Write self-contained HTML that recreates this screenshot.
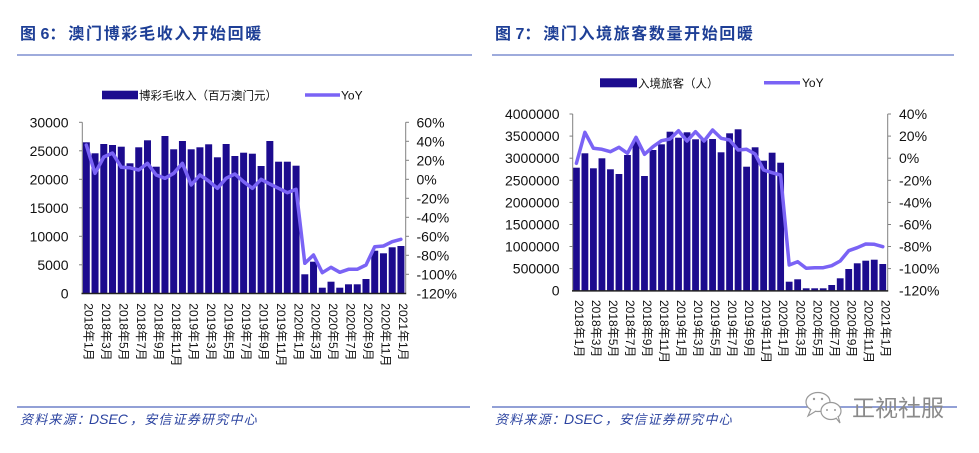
<!DOCTYPE html>
<html><head><meta charset="utf-8"><style>
html,body{margin:0;padding:0;background:#fff;}
body{width:979px;height:453px;overflow:hidden;}
svg{display:block;font-family:"Liberation Sans","Noto Sans CJK SC",sans-serif;}
</style></head><body>
<svg width="979" height="453" viewBox="0 0 979 453" xmlns="http://www.w3.org/2000/svg">
<rect width="979" height="453" fill="#fff"/>
<!-- Titles -->
<g font-family="'Liberation Sans','Noto Sans CJK SC',sans-serif" font-weight="bold" fill="#1e3f96" font-size="16">
<text x="20" y="39">图 6：</text>
<text x="68.3" y="39" letter-spacing="1.7">澳门博彩毛收入开始回暖</text>
<text x="495" y="39">图 7：</text>
<text x="543.3" y="39" letter-spacing="1.6">澳门入境旅客数量开始回暖</text>
</g>
<line x1="17" y1="55" x2="472" y2="55" stroke="#7f8fd0" stroke-width="1.5"/>
<line x1="492" y1="55" x2="954" y2="55" stroke="#7f8fd0" stroke-width="1.5"/>

<!-- ========== LEFT CHART ========== -->
<!-- legend -->
<rect x="102" y="90.7" width="36" height="8.6" fill="#1c0b8e"/>
<text x="139" y="99.3" font-size="11.5" fill="#111">博彩毛收入（百万澳门元）</text>
<line x1="305" y1="95" x2="340" y2="95" stroke="#7a63f5" stroke-width="3.5"/>
<text x="341" y="99.3" font-size="12" fill="#111">YoY</text>

<!-- bars -->
<g fill="#1c0b8e">
<rect x="82.8" y="142.3" width="7" height="151"/>
<rect x="91.54" y="153.3" width="7" height="140"/>
<rect x="100.28" y="144" width="7" height="149.3"/>
<rect x="109.02" y="145" width="7" height="148.3"/>
<rect x="117.76" y="146.7" width="7" height="146.6"/>
<rect x="126.5" y="163.3" width="7" height="130"/>
<rect x="135.24" y="147.3" width="7" height="146"/>
<rect x="143.98" y="140.3" width="7" height="153"/>
<rect x="152.72" y="166.7" width="7" height="126.6"/>
<rect x="161.46" y="136" width="7" height="157.3"/>
<rect x="170.2" y="149.3" width="7" height="144"/>
<rect x="178.94" y="141" width="7" height="152.3"/>
<rect x="187.68" y="149.3" width="7" height="144"/>
<rect x="196.42" y="147.3" width="7" height="146"/>
<rect x="205.16" y="144.3" width="7" height="149"/>
<rect x="213.9" y="157.3" width="7" height="136"/>
<rect x="222.64" y="144" width="7" height="149.3"/>
<rect x="231.38" y="156" width="7" height="137.3"/>
<rect x="240.12" y="152.7" width="7" height="140.6"/>
<rect x="248.86" y="153.7" width="7" height="139.6"/>
<rect x="257.6" y="166" width="7" height="127.3"/>
<rect x="266.34" y="141" width="7" height="152.3"/>
<rect x="275.08" y="161.7" width="7" height="131.6"/>
<rect x="283.82" y="161.7" width="7" height="131.6"/>
<rect x="292.56" y="165.7" width="7" height="127.6"/>
<rect x="301.3" y="274.3" width="7" height="19"/>
<rect x="310.04" y="261.7" width="7" height="31.6"/>
<rect x="318.78" y="287.7" width="7" height="5.6"/>
<rect x="327.52" y="281.7" width="7" height="11.6"/>
<rect x="336.26" y="287.7" width="7" height="5.6"/>
<rect x="345" y="284.3" width="7" height="9"/>
<rect x="353.74" y="284.3" width="7" height="9"/>
<rect x="362.48" y="279" width="7" height="14.3"/>
<rect x="371.22" y="250.7" width="7" height="42.6"/>
<rect x="379.96" y="253.3" width="7" height="40"/>
<rect x="388.7" y="247.3" width="7" height="46"/>
<rect x="397.44" y="246" width="7" height="47.3"/>
</g>
<!-- axes -->
<g stroke="#808080" stroke-width="1" fill="none">
<line x1="82.3" y1="122.3" x2="82.3" y2="293.3"/>
<line x1="79" y1="122.3" x2="82.3" y2="122.3"/>
<line x1="79" y1="150.8" x2="82.3" y2="150.8"/>
<line x1="79" y1="179.3" x2="82.3" y2="179.3"/>
<line x1="79" y1="207.8" x2="82.3" y2="207.8"/>
<line x1="79" y1="236.3" x2="82.3" y2="236.3"/>
<line x1="79" y1="264.8" x2="82.3" y2="264.8"/>
<line x1="405.7" y1="122.3" x2="405.7" y2="293.3"/>
<line x1="405.7" y1="122.3" x2="409" y2="122.3"/>
<line x1="405.7" y1="141.3" x2="409" y2="141.3"/>
<line x1="405.7" y1="160.3" x2="409" y2="160.3"/>
<line x1="405.7" y1="179.3" x2="409" y2="179.3"/>
<line x1="405.7" y1="198.3" x2="409" y2="198.3"/>
<line x1="405.7" y1="217.3" x2="409" y2="217.3"/>
<line x1="405.7" y1="236.3" x2="409" y2="236.3"/>
<line x1="405.7" y1="255.3" x2="409" y2="255.3"/>
<line x1="405.7" y1="274.3" x2="409" y2="274.3"/>
</g>
<line x1="81.5" y1="293.5" x2="406.2" y2="293.5" stroke="#222" stroke-width="1.5"/>
<!-- YoY line -->
<polyline fill="none" stroke="#7a63f5" stroke-width="3.5" stroke-linejoin="round" stroke-linecap="round" points="86.3,145 95,173.3 103.8,157 112.5,153 121.3,167.3 130,167.8 138.7,170 147.5,163.3 156.2,175 165,178.3 173.7,173.3 182.4,163.3 191.2,185 199.9,175 208.7,181 217.4,188.3 226.1,178.3 234.9,174 243.6,181.7 252.4,188.3 261.1,179.3 269.8,184 278.6,188.3 287.3,192.7 296.1,189.3 304.8,263.3 313.5,255 322.3,272.7 331,267.3 339.8,272.3 348.5,269.3 357.2,269.3 366,265 374.7,246.7 383.5,246 392.2,241.7 400.9,239.3"/>
<!-- y labels -->
<g font-size="14" fill="#111" text-anchor="end">
<text x="68.5" y="127.3">30000</text>
<text x="68.5" y="155.8">25000</text>
<text x="68.5" y="184.3">20000</text>
<text x="68.5" y="212.8">15000</text>
<text x="68.5" y="241.3">10000</text>
<text x="68.5" y="269.8">5000</text>
<text x="68.5" y="298.3">0</text>
</g>
<g font-size="14" fill="#111">
<text x="416.5" y="127.3">60%</text>
<text x="416.5" y="146.3">40%</text>
<text x="416.5" y="165.3">20%</text>
<text x="416.5" y="184.3">0%</text>
<text x="416.5" y="203.3">-20%</text>
<text x="416.5" y="222.3">-40%</text>
<text x="416.5" y="241.3">-60%</text>
<text x="416.5" y="260.3">-80%</text>
<text x="416.5" y="279.3">-100%</text>
<text x="416.5" y="298.3">-120%</text>
</g>
<!-- x labels -->
<g font-size="12" fill="#111">
<text transform="translate(84.5,303.3) rotate(90)">2018年1月</text>
<text transform="translate(101.98,303.3) rotate(90)">2018年3月</text>
<text transform="translate(119.46,303.3) rotate(90)">2018年5月</text>
<text transform="translate(136.94,303.3) rotate(90)">2018年7月</text>
<text transform="translate(154.42,303.3) rotate(90)">2018年9月</text>
<text transform="translate(171.9,303.3) rotate(90)">2018年11月</text>
<text transform="translate(189.38,303.3) rotate(90)">2019年1月</text>
<text transform="translate(206.86,303.3) rotate(90)">2019年3月</text>
<text transform="translate(224.34,303.3) rotate(90)">2019年5月</text>
<text transform="translate(241.82,303.3) rotate(90)">2019年7月</text>
<text transform="translate(259.3,303.3) rotate(90)">2019年9月</text>
<text transform="translate(276.78,303.3) rotate(90)">2019年11月</text>
<text transform="translate(294.26,303.3) rotate(90)">2020年1月</text>
<text transform="translate(311.74,303.3) rotate(90)">2020年3月</text>
<text transform="translate(329.22,303.3) rotate(90)">2020年5月</text>
<text transform="translate(346.7,303.3) rotate(90)">2020年7月</text>
<text transform="translate(364.18,303.3) rotate(90)">2020年9月</text>
<text transform="translate(381.66,303.3) rotate(90)">2020年11月</text>
<text transform="translate(399.14,303.3) rotate(90)">2021年1月</text>
</g>

<!-- ========== RIGHT CHART ========== -->
<rect x="600" y="78.3" width="37" height="9" fill="#1c0b8e"/>
<text x="638" y="87.3" font-size="11.5" fill="#111">入境旅客（人）</text>
<line x1="764" y1="82.7" x2="800" y2="82.7" stroke="#7a63f5" stroke-width="3.5"/>
<text x="802" y="87" font-size="12" fill="#111">YoY</text>

<g fill="#1c0b8e">
<rect x="573" y="167.7" width="6.8" height="123"/>
<rect x="581.51" y="153.3" width="6.8" height="137.4"/>
<rect x="590.02" y="168.3" width="6.8" height="122.4"/>
<rect x="598.53" y="158.3" width="6.8" height="132.4"/>
<rect x="607.04" y="169.3" width="6.8" height="121.4"/>
<rect x="615.55" y="174" width="6.8" height="116.7"/>
<rect x="624.06" y="155" width="6.8" height="135.7"/>
<rect x="632.57" y="140" width="6.8" height="150.7"/>
<rect x="641.08" y="176" width="6.8" height="114.7"/>
<rect x="649.59" y="150" width="6.8" height="140.7"/>
<rect x="658.1" y="144.3" width="6.8" height="146.4"/>
<rect x="666.61" y="131.7" width="6.8" height="159"/>
<rect x="675.12" y="137.7" width="6.8" height="153"/>
<rect x="683.63" y="132.3" width="6.8" height="158.4"/>
<rect x="692.14" y="139.3" width="6.8" height="151.4"/>
<rect x="700.65" y="140" width="6.8" height="150.7"/>
<rect x="709.16" y="139" width="6.8" height="151.7"/>
<rect x="717.67" y="152.3" width="6.8" height="138.4"/>
<rect x="726.18" y="133.3" width="6.8" height="157.4"/>
<rect x="734.69" y="129.3" width="6.8" height="161.4"/>
<rect x="743.2" y="166.7" width="6.8" height="124"/>
<rect x="751.71" y="147.3" width="6.8" height="143.4"/>
<rect x="760.22" y="160.7" width="6.8" height="130"/>
<rect x="768.73" y="152.7" width="6.8" height="138"/>
<rect x="777.24" y="162.7" width="6.8" height="128"/>
<rect x="785.75" y="281.7" width="6.8" height="9"/>
<rect x="794.26" y="279.3" width="6.8" height="11.4"/>
<rect x="802.77" y="288.3" width="6.8" height="2.4"/>
<rect x="811.28" y="288.3" width="6.8" height="2.4"/>
<rect x="819.79" y="288.3" width="6.8" height="2.4"/>
<rect x="828.3" y="285" width="6.8" height="5.7"/>
<rect x="836.81" y="278.3" width="6.8" height="12.4"/>
<rect x="845.32" y="269" width="6.8" height="21.7"/>
<rect x="853.83" y="263.3" width="6.8" height="27.4"/>
<rect x="862.34" y="260.7" width="6.8" height="30"/>
<rect x="870.85" y="259.7" width="6.8" height="31"/>
<rect x="879.36" y="264" width="6.8" height="26.7"/>
</g>
<g stroke="#808080" stroke-width="1" fill="none">
<line x1="572.7" y1="114" x2="572.7" y2="290.7"/>
<line x1="569.5" y1="114" x2="572.7" y2="114"/>
<line x1="569.5" y1="136.1" x2="572.7" y2="136.1"/>
<line x1="569.5" y1="158.2" x2="572.7" y2="158.2"/>
<line x1="569.5" y1="180.3" x2="572.7" y2="180.3"/>
<line x1="569.5" y1="202.4" x2="572.7" y2="202.4"/>
<line x1="569.5" y1="224.5" x2="572.7" y2="224.5"/>
<line x1="569.5" y1="246.5" x2="572.7" y2="246.5"/>
<line x1="569.5" y1="268.6" x2="572.7" y2="268.6"/>
<line x1="887.7" y1="114" x2="887.7" y2="290.7"/>
<line x1="887.7" y1="114" x2="891" y2="114"/>
<line x1="887.7" y1="136.1" x2="891" y2="136.1"/>
<line x1="887.7" y1="158.2" x2="891" y2="158.2"/>
<line x1="887.7" y1="180.3" x2="891" y2="180.3"/>
<line x1="887.7" y1="202.4" x2="891" y2="202.4"/>
<line x1="887.7" y1="224.5" x2="891" y2="224.5"/>
<line x1="887.7" y1="246.5" x2="891" y2="246.5"/>
<line x1="887.7" y1="268.6" x2="891" y2="268.6"/>
</g>
<line x1="572" y1="290.9" x2="888.2" y2="290.9" stroke="#222" stroke-width="1.5"/>
<polyline fill="none" stroke="#7a63f5" stroke-width="3.5" stroke-linejoin="round" stroke-linecap="round" points="576.4,163.3 584.9,132.3 593.4,148.3 601.9,149.3 610.4,151.7 619,147.3 627.5,153.3 636,137.3 644.5,154.3 653,146.7 661.5,140.7 670,139 678.5,130.7 687,141 695.5,131.7 704.1,141 712.6,130 721.1,138.3 729.6,140 738.1,150 746.6,149.3 755.1,154 763.6,170 772.1,172.7 780.6,175 789.2,265 797.7,261.7 806.2,268.3 814.7,267.7 823.2,267.7 831.7,265.7 840.2,261 848.7,250.7 857.2,247.7 865.7,244 874.3,244.3 882.8,246.7"/>
<g font-size="14" fill="#111" text-anchor="end">
<text x="559.5" y="119">4000000</text>
<text x="559.5" y="141.1">3500000</text>
<text x="559.5" y="163.2">3000000</text>
<text x="559.5" y="185.3">2500000</text>
<text x="559.5" y="207.4">2000000</text>
<text x="559.5" y="229.5">1500000</text>
<text x="559.5" y="251.5">1000000</text>
<text x="559.5" y="273.6">500000</text>
<text x="559.5" y="295.7">0</text>
</g>
<g font-size="14" fill="#111">
<text x="899" y="119">40%</text>
<text x="899" y="141.1">20%</text>
<text x="899" y="163.2">0%</text>
<text x="899" y="185.3">-20%</text>
<text x="899" y="207.4">-40%</text>
<text x="899" y="229.5">-60%</text>
<text x="899" y="251.5">-80%</text>
<text x="899" y="273.6">-100%</text>
<text x="899" y="295.7">-120%</text>
</g>
<g font-size="12" fill="#111">
<text transform="translate(575,300) rotate(90)">2018年1月</text>
<text transform="translate(592.02,300) rotate(90)">2018年3月</text>
<text transform="translate(609.04,300) rotate(90)">2018年5月</text>
<text transform="translate(626.06,300) rotate(90)">2018年7月</text>
<text transform="translate(643.08,300) rotate(90)">2018年9月</text>
<text transform="translate(660.1,300) rotate(90)">2018年11月</text>
<text transform="translate(677.12,300) rotate(90)">2019年1月</text>
<text transform="translate(694.14,300) rotate(90)">2019年3月</text>
<text transform="translate(711.16,300) rotate(90)">2019年5月</text>
<text transform="translate(728.18,300) rotate(90)">2019年7月</text>
<text transform="translate(745.2,300) rotate(90)">2019年9月</text>
<text transform="translate(762.22,300) rotate(90)">2019年11月</text>
<text transform="translate(779.24,300) rotate(90)">2020年1月</text>
<text transform="translate(796.26,300) rotate(90)">2020年3月</text>
<text transform="translate(813.28,300) rotate(90)">2020年5月</text>
<text transform="translate(830.3,300) rotate(90)">2020年7月</text>
<text transform="translate(847.32,300) rotate(90)">2020年9月</text>
<text transform="translate(864.34,300) rotate(90)">2020年11月</text>
<text transform="translate(881.36,300) rotate(90)">2021年1月</text>
</g>

<!-- footer -->
<line x1="17" y1="407" x2="470" y2="407" stroke="#6f80c8" stroke-width="1.5"/>
<line x1="492" y1="407" x2="957" y2="407" stroke="#6f80c8" stroke-width="1.5"/>
<g fill="#2b43a0" font-style="italic">
<text x="20" y="424" font-size="13" letter-spacing="1.2">资料来源：</text>
<text x="89" y="424" font-size="14">DSEC</text>
<text x="130" y="424" font-size="13" letter-spacing="1.2">，安信证券研究中心</text>
<text x="495" y="424" font-size="13" letter-spacing="1.2">资料来源：</text>
<text x="564" y="424" font-size="14">DSEC</text>
<text x="605" y="424" font-size="13" letter-spacing="1.2">，安信证券研究中心</text>
</g>
<!-- watermark -->
<g stroke="#9a9a9a" stroke-width="1.2" fill="#fff">
<ellipse cx="818" cy="402" rx="12" ry="9.5"/>
<path d="M811 409 L808 416 L816 411" />
<ellipse cx="831" cy="411" rx="10" ry="8.5"/>
<path d="M836 418 L840 423 L838 416"/>
</g>
<g fill="#9a9a9a">
<circle cx="814" cy="399" r="1.2"/><circle cx="822" cy="399" r="1.2"/>
<circle cx="827" cy="410" r="1"/><circle cx="835" cy="410" r="1"/>
</g>
<text x="852" y="416" font-size="23" fill="#8a8a8a" font-family="'Liberation Sans','Noto Sans CJK SC',sans-serif">正视社服</text>
</svg>
</body></html>
